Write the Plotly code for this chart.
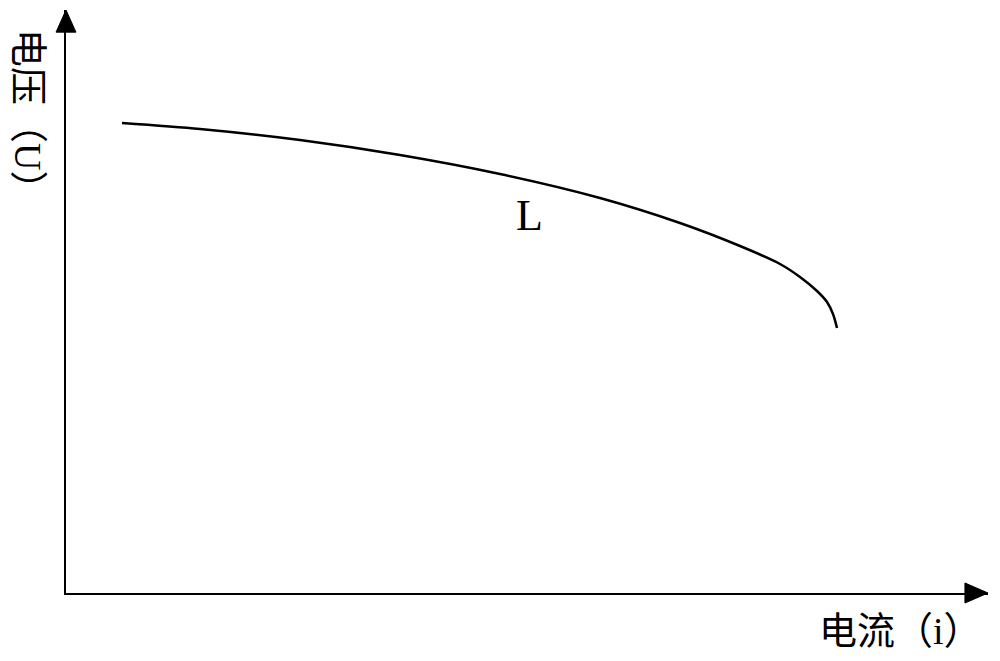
import plotly.graph_objects as go

# Curve L: current (i) vs voltage (U), arbitrary units
current_i = [5.6, 13.4, 23.4, 33.4, 43.4, 53.4, 61.4, 67.4, 71.4, 73.4, 75.1, 76.1, 76.7, 77.1]
voltage_u = [47.0, 46.4, 45.3, 43.8, 41.9, 39.5, 37.0, 34.7, 32.9, 31.6, 30.2, 29.1, 27.9, 26.5]

x_title = "电流（i）"
y_title = "电压（U）"
curve_label = "L"

X_MAX = 92.2
Y_MAX = 58.3

fig = go.Figure()
fig.add_trace(go.Scatter(
    x=current_i, y=voltage_u, mode="lines",
    line=dict(color="black", width=2.5, shape="spline", smoothing=0.8),
    hoverinfo="skip", showlegend=False,
))

font_mix = "Liberation Serif, Noto Sans CJK SC, serif"

fig.add_annotation(x=0.503, y=0.6467, xref="paper", yref="paper", text=curve_label,
                   xanchor="center", yanchor="middle",
                   showarrow=False, font=dict(family="Liberation Serif", size=44, color="black"))
fig.add_annotation(x=0.9046, y=-0.0652, xref="paper", yref="paper", text=x_title,
                   xanchor="center", yanchor="middle",
                   showarrow=False, font=dict(family=font_mix, size=38, color="black"))
fig.add_annotation(x=-0.0412, y=0.8147, xref="paper", yref="paper", text=y_title, textangle=90,
                   xanchor="center", yanchor="middle", borderpad=0,
                   showarrow=False, font=dict(family=font_mix, size=38, color="black"))

# arrow heads at the ends of the axes
fig.add_shape(type="path", xref="paper", yref="paper",
              path="M 1 0 L 0.975 0.0172 L 0.975 -0.0172 Z",
              fillcolor="black", line=dict(color="black", width=1))
fig.add_shape(type="path", xref="paper", yref="paper",
              path="M 0 1 L -0.0108 0.962 L 0.0108 0.962 Z",
              fillcolor="black", line=dict(color="black", width=1))

fig.update_layout(
    width=1000, height=661,
    margin=dict(l=66, r=12, t=10, b=68),
    paper_bgcolor="white", plot_bgcolor="white",
    xaxis=dict(range=[0, X_MAX], showline=True, linecolor="black", linewidth=2,
               showgrid=False, zeroline=False, showticklabels=False, ticks=""),
    yaxis=dict(range=[0, Y_MAX], showline=True, linecolor="black", linewidth=2,
               showgrid=False, zeroline=False, showticklabels=False, ticks=""),
)

fig.write_html("out.html", config={"displayModeBar": False},
               post_script="document.body.style.margin='0';document.body.style.overflow='hidden';")
